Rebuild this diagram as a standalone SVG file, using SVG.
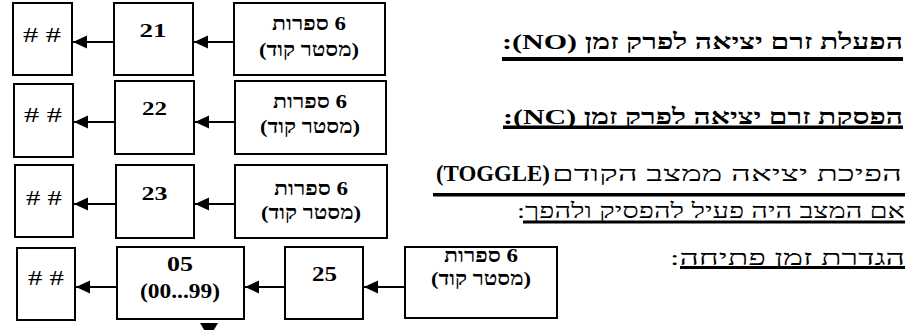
<svg xmlns="http://www.w3.org/2000/svg" width="915" height="330" viewBox="0 0 915 330">
<style>
.box{fill:#fff;stroke:#000;stroke-width:2}
.ln{stroke:#000;stroke-width:2;fill:none}
.t{font-family:"Liberation Serif","Times New Roman","Liberation Sans","DejaVu Sans",serif;fill:#000}
.b{font-weight:bold}
.c{text-anchor:middle}
.hc{direction:rtl;text-anchor:middle}
.r{direction:rtl;text-anchor:start}
.ul{fill:#000}
</style>
<defs>
<marker id="ah" markerWidth="15" markerHeight="14" refX="14" refY="7" orient="auto" markerUnits="userSpaceOnUse">
<path d="M0,0.5 L14,7 L0,13.5 Z" fill="#000"/>
</marker>
</defs>
<rect width="915" height="330" fill="#fff"/>

<g id="connectors">
<line class="ln" x1="114" y1="42" x2="73" y2="42" marker-end="url(#ah)"/>
<line class="ln" x1="234" y1="42" x2="194" y2="42" marker-end="url(#ah)"/>
<line class="ln" x1="115" y1="122" x2="74" y2="122" marker-end="url(#ah)"/>
<line class="ln" x1="235" y1="122" x2="195" y2="122" marker-end="url(#ah)"/>
<line class="ln" x1="116" y1="204" x2="74" y2="204" marker-end="url(#ah)"/>
<line class="ln" x1="235" y1="204" x2="195" y2="204" marker-end="url(#ah)"/>
<line class="ln" x1="117" y1="287" x2="76" y2="287" marker-end="url(#ah)"/>
<line class="ln" x1="285" y1="287" x2="245" y2="287" marker-end="url(#ah)"/>
<line class="ln" x1="405" y1="287" x2="364" y2="287" marker-end="url(#ah)"/>
<path d="M200,323 L218,323 L209,338 Z" fill="#000"/>
</g>

<g id="row1">
<g id="n1a"><rect class="box" x="13" y="3" width="59" height="72"/><text class="t c" x="42" y="42" font-size="22" textLength="38" lengthAdjust="spacingAndGlyphs"># #</text></g>
<g id="n1b"><rect class="box" x="114" y="3" width="79" height="72"/><text class="t b c" x="153" y="37" font-size="18" textLength="27" lengthAdjust="spacingAndGlyphs">21</text></g>
<g id="n1c"><rect class="box" x="234" y="3" width="151" height="72"/><text class="t b hc" x="309" y="30" font-size="19" textLength="74" lengthAdjust="spacingAndGlyphs">6 ספרות</text><text class="t b hc" x="309" y="56" font-size="19" textLength="100" lengthAdjust="spacingAndGlyphs">(מסטר קוד)</text></g>
</g>

<g id="row2">
<g id="n2a"><rect class="box" x="14" y="84" width="59" height="73"/><text class="t c" x="43" y="122" font-size="22" textLength="38" lengthAdjust="spacingAndGlyphs"># #</text></g>
<g id="n2b"><rect class="box" x="115" y="81" width="79" height="73"/><text class="t b c" x="154.5" y="115" font-size="18" textLength="25" lengthAdjust="spacingAndGlyphs">22</text></g>
<g id="n2c"><rect class="box" x="235" y="81" width="151" height="73"/><text class="t b hc" x="310" y="108" font-size="19" textLength="74" lengthAdjust="spacingAndGlyphs">6 ספרות</text><text class="t b hc" x="310" y="133" font-size="19" textLength="100" lengthAdjust="spacingAndGlyphs">(מסטר קוד)</text></g>
</g>

<g id="row3">
<g id="n3a"><rect class="box" x="15" y="165" width="58" height="72"/><text class="t c" x="44" y="205" font-size="22" textLength="36" lengthAdjust="spacingAndGlyphs"># #</text></g>
<g id="n3b"><rect class="box" x="116" y="165" width="78" height="73"/><text class="t b c" x="154.5" y="200" font-size="19" textLength="26" lengthAdjust="spacingAndGlyphs">23</text></g>
<g id="n3c"><rect class="box" x="235" y="165" width="152" height="73"/><text class="t b hc" x="311" y="195" font-size="19" textLength="74" lengthAdjust="spacingAndGlyphs">6 ספרות</text><text class="t b hc" x="311" y="219" font-size="19" textLength="100" lengthAdjust="spacingAndGlyphs">(מסטר קוד)</text></g>
</g>

<g id="row4">
<g id="n4a"><rect class="box" x="17" y="248" width="58" height="72"/><text class="t c" x="46" y="285" font-size="22" textLength="36" lengthAdjust="spacingAndGlyphs"># #</text></g>
<g id="n4b"><rect class="box" x="117" y="247" width="127" height="72"/><text class="t b c" x="180" y="271" font-size="22" textLength="26" lengthAdjust="spacingAndGlyphs">05</text><text class="t b c" x="180" y="298" font-size="22" textLength="80" lengthAdjust="spacingAndGlyphs">(00...99)</text></g>
<g id="n4c"><rect class="box" x="285" y="247" width="78" height="72"/><text class="t b c" x="324.5" y="281" font-size="22" textLength="25" lengthAdjust="spacingAndGlyphs">25</text></g>
<g id="n4d"><rect class="box" x="405" y="247" width="152" height="71"/><text class="t b hc" x="481" y="262" font-size="19" textLength="74" lengthAdjust="spacingAndGlyphs">6 ספרות</text><text class="t b hc" x="481" y="285" font-size="19" textLength="100" lengthAdjust="spacingAndGlyphs">(מסטר קוד)</text></g>
</g>

<g id="headings">
<text class="t b r" x="903" y="49" font-size="22" textLength="401" lengthAdjust="spacingAndGlyphs">הפעלת זרם יציאה לפרק זמן (NO):</text>
<rect class="ul" x="502" y="57" width="401" height="4"/>
<text class="t b r" x="903" y="124" font-size="22" textLength="400" lengthAdjust="spacingAndGlyphs">הפסקת זרם יציאה לפרק זמן (NC):</text>
<rect class="ul" x="503" y="125.5" width="400" height="3.5"/>
<text class="t" y="181" font-size="21"><tspan x="727" text-anchor="middle" textLength="350" lengthAdjust="spacingAndGlyphs">הפיכת יציאה ממצב הקודם</tspan><tspan x="493" y="181" text-anchor="middle" class="b" font-size="23" textLength="114" lengthAdjust="spacingAndGlyphs">(TOGGLE)</tspan></text>
<rect class="ul" x="433" y="193" width="472" height="3.5"/>
<text class="t r" x="905" y="218" font-size="21" textLength="388" lengthAdjust="spacingAndGlyphs">אם המצב היה פעיל להפסיק ולהפך:</text>
<rect class="ul" x="523" y="220.5" width="382" height="3"/>
<text class="t r" x="905" y="265" font-size="21" textLength="235" lengthAdjust="spacingAndGlyphs">הגדרת זמן פתיחה:</text>
<rect class="ul" x="680" y="266" width="225" height="3"/>
</g>
</svg>
